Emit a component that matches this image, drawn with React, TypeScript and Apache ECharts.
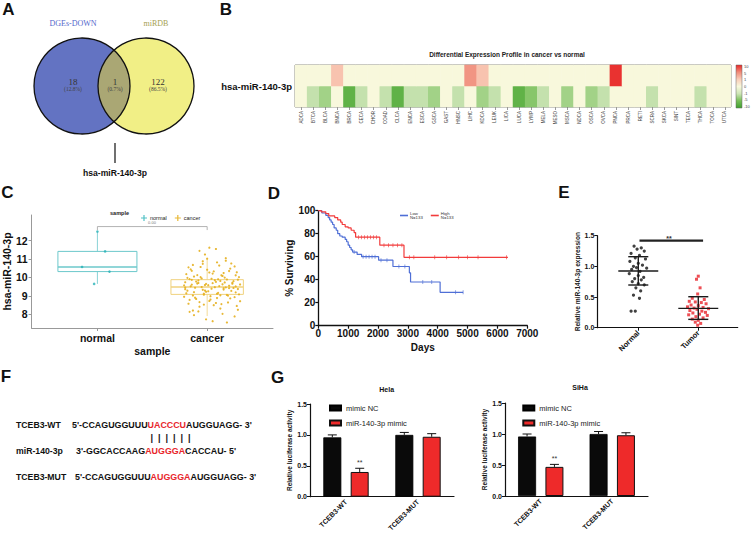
import React, { useEffect, useRef } from 'react';
import * as echarts from 'echarts';

// ---------- Panel A: Venn ----------
const vennSets = ['DGEs-DOWN', 'miRDB'];
const vennCounts = [18, 1, 122];
const vennPercents = ['(12.8%)', '(0.7%)', '(86.5%)'];
const vennHit = 'hsa-miR-140-3p';

// ---------- Panel B: heatmap ----------
const heatTitle = 'Differential Expression Profile in cancer vs normal';
const heatRowLabel = 'hsa-miR-140-3p';
const tumorTypes = ['ADCA', 'BTCA', 'BLCA', 'BNCA', 'BRCA', 'CECA', 'CHOR', 'COAD', 'CLCA', 'ENCA', 'ESCA', 'GSCA', 'GAST', 'HNSC', 'LIHC', 'KDCA', 'LEUK', 'LICA', 'LUCA', 'LYMP', 'MELA', 'MESO', 'MSCA', 'NDCA', 'OSCA', 'OVCA', 'PNCA', 'PRCA', 'RETI', 'SCRA', 'SKCA', 'SINT', 'TECA', 'THCA', 'TOCA', 'UTCA'];
const heatTopRow = [0, 0, 0, 1.6, 0, 0, 0, 0, 0, 0, 0, 0, 0, 0, 4.4, 1.6, 0, 0, 0, 0, 0, 0, 0, 0, 0, 0, 9.5, 0, 0, 0, 0, 0, 0, 0, 0, 0];
const heatBottomRow = [0, -1.4, -3, 0, -7, -1.4, 0, -1.4, -7, -1.4, -1.4, -3, 0, -1.4, 0, -3, -1.4, 0, -7, -4.2, -1.4, 0, -3, 0, -3, -1.4, 0, 0, 0, -1.4, 0, 0, 0, -1.4, 0, 0];
const colorbarTicks = [10, 5, 1, 0, -1, -5, -10];
const heatColors = ['#3f9f2f', '#76be57', '#cde5b6', '#f8f8dc', '#f9cdb9', '#f08b79', '#e82828'];

// ---------- Panel C: box plot ----------
const boxCategories = ['normal', 'cancer'];
// [x, low, q1, median, q3, high, halfWidth]
const normalBox = [1, 9.65, 10.32, 10.57, 11.42, 12.5, 0.36];
const cancerBox = [2, 7.9, 9.08, 9.48, 9.88, 11.05, 0.33];
const normalPoints = [[1.0, 12.5], [1.07, 11.42], [0.86, 10.57], [1.11, 10.32], [0.97, 9.65]];
const cancerPoints = [
  [1.85, 9.52], [2.12, 9.81], [1.97, 9.12], [2.24, 9.43], [1.79, 8.95], [2.05, 10.21], [2.18, 9.05], [1.91, 9.67], [2.28, 9.88], [2.02, 8.72],
  [1.88, 10.05], [2.15, 9.34], [1.82, 9.28], [2.21, 10.48], [1.95, 9.95], [2.09, 8.88], [2.26, 9.19], [1.86, 10.36], [2.01, 9.58], [2.13, 10.12],
  [1.8, 9.74], [2.19, 8.64], [1.93, 8.41], [2.07, 9.47], [2.3, 9.62], [1.84, 9.91], [2.11, 10.65], [1.99, 9.22], [2.23, 9.71], [1.9, 8.83],
  [2.16, 9.99], [1.81, 10.18], [2.04, 9.39], [2.27, 10.28], [1.96, 10.74], [2.1, 9.16], [1.87, 9.02], [2.2, 9.55], [2.0, 10.42], [1.83, 8.57],
  [2.25, 8.93], [1.92, 9.84], [2.14, 9.63], [2.06, 8.49], [1.89, 9.44], [2.29, 10.02], [1.98, 9.29], [2.17, 10.91], [1.8, 9.36], [2.08, 9.76],
  [2.22, 9.27], [1.94, 10.57], [2.03, 8.98], [2.12, 8.31], [1.86, 9.61], [2.26, 9.51], [1.97, 9.06], [2.18, 9.89], [1.84, 8.78], [2.05, 9.69],
  [2.3, 8.71], [1.91, 10.13], [2.15, 9.41], [2.0, 11.02], [1.82, 9.98], [2.2, 10.35], [1.95, 9.48], [2.09, 9.11], [2.24, 9.8], [1.88, 9.2],
  [2.13, 8.55], [1.79, 9.57], [2.02, 10.27], [2.28, 9.37], [1.93, 8.66], [2.16, 9.73], [1.85, 10.44], [2.07, 9.85], [2.21, 8.86], [1.99, 9.65],
  [1.87, 8.2], [2.11, 9.53], [2.25, 10.6], [1.96, 9.33], [2.04, 9.93], [2.19, 9.01], [1.81, 9.14], [2.14, 10.08], [1.9, 9.78], [2.27, 8.45],
  [2.01, 9.25], [1.83, 10.55], [2.17, 9.46], [1.94, 10.02], [2.08, 8.61], [2.23, 9.66], [1.89, 8.9], [2.06, 10.33], [2.29, 9.08], [1.98, 9.59],
  [2.12, 9.03], [1.86, 9.87], [2.2, 9.42], [2.03, 8.8], [1.92, 9.7], [2.15, 10.24], [1.8, 9.45], [2.26, 10.12], [1.97, 8.52], [2.1, 9.9],
  [2.02, 11.62], [1.93, 11.45], [2.08, 11.55], [2.17, 11.05], [1.98, 11.25], [2.05, 7.62], [2.18, 7.55], [1.99, 7.72], [1.88, 7.95], [2.25, 7.88],
  [2.14, 8.02], [1.84, 8.13], [2.28, 8.24], [1.92, 8.15], [2.09, 10.82], [1.96, 10.88], [2.22, 10.76], [1.87, 10.68],
];
const boxBracket = [[1, 12.58], [1, 12.77], [2, 12.77], [2, 12.58]];
const boxPValue = '0.00';

// ---------- Panel D: Kaplan-Meier ----------
const kmGroups = ['Low', 'High'];
const kmN = [133, 133];
const kmLow = [[0, 100], [120, 98], [250, 96], [330, 94], [380, 92], [430, 90], [480, 88], [530, 85], [600, 83], [650, 80], [720, 78], [800, 77], [900, 75], [950, 73], [1000, 70], [1050, 68], [1100, 66], [1150, 64], [1300, 62], [1450, 60], [2020, 57], [2500, 51.5], [3050, 46], [3090, 38], [4080, 29], [4850, 29]];
const kmHigh = [[0, 100], [100, 99], [250, 97.5], [350, 95.5], [550, 94], [650, 92], [750, 90], [800, 88], [900, 86], [1000, 85], [1100, 83], [1200, 81], [1250, 77], [2060, 70], [2870, 59.5], [6350, 59.5]];
const kmLowCensor = [[1200, 64], [1500, 60], [1600, 60], [1700, 60], [1800, 60], [1900, 60], [2100, 57], [2300, 57], [2700, 51.5], [2900, 51.5], [3500, 38], [3800, 38], [4600, 29], [4850, 29]];
const kmHighCensor = [[1350, 77], [1450, 77], [1550, 77], [1650, 77], [1750, 77], [1850, 77], [1950, 77], [2200, 70], [2350, 70], [2500, 70], [2650, 70], [2800, 70], [3050, 59.5], [3200, 59.5], [3900, 59.5], [4300, 59.5], [4700, 59.5], [5000, 59.5], [5350, 59.5], [6300, 59.5]];

// ---------- Panel E: scatter ----------
const eCategories = ['Normal', 'Tumor'];
const normalE = [[0.93, 1.33], [1.05, 1.3], [0.98, 1.28], [1.1, 1.25], [0.88, 1.21], [1.02, 1.18], [0.95, 1.14], [1.12, 1.12], [0.86, 1.08], [1.0, 1.05], [1.07, 1.02], [0.92, 1.0], [0.97, 0.98], [1.14, 0.97], [0.89, 0.95], [1.03, 0.92], [0.85, 0.88], [1.0, 0.85], [1.09, 0.82], [0.94, 0.8], [1.05, 0.78], [0.9, 0.75], [1.0, 0.72], [1.1, 0.7], [0.96, 0.65], [1.04, 0.6], [0.92, 0.53], [1.02, 0.48], [0.88, 0.27], [0.95, 0.27]];
const tumorE = [[2.0, 0.84], [1.97, 0.79], [2.03, 0.65], [1.99, 0.55], [1.9, 0.48], [2.1, 0.46], [1.85, 0.43], [1.95, 0.42], [2.05, 0.41], [2.13, 0.39], [1.88, 0.37], [2.0, 0.36], [1.82, 0.34], [2.08, 0.33], [1.93, 0.32], [2.17, 0.31], [1.98, 0.3], [1.86, 0.28], [2.06, 0.27], [2.12, 0.25], [1.91, 0.24], [2.02, 0.22], [1.84, 0.21], [2.15, 0.2], [1.96, 0.18], [2.08, 0.16], [1.9, 0.14], [2.0, 0.12], [1.95, 0.09], [2.04, 0.07], [1.99, 0.04]];
// [x, mean, lower SD, upper SD]
const eSummary = [[1, 0.924, 0.696, 1.158], [2, 0.315, 0.136, 0.505]];
const eSigLine = [[1.02, 1.42], [2.08, 1.42]];

// ---------- Panel F: sequences ----------
const seqRows = [
  { label: 'TCEB3-WT', pre: "5'-CCAGUGGUUU", site: 'UACCCU', post: "AUGGUAGG- 3'" },
  { label: 'miR-140-3p', pre: "3'-GGCACCAAG", site: 'AUGGGA', post: "CACCAU- 5'" },
  { label: 'TCEB3-MUT', pre: "5'-CCAGUGGUUU", site: 'AUGGGA', post: "AUGGUAGG- 3'" },
];
const pairingMarks = '|  |  |  |  |  |';

// ---------- Panel G: luciferase ----------
const lucGroups = ['TCEB3-WT', 'TCEB3-MUT'];
const lucSeries = ['mimic NC', 'miR-140-3p mimic'];
const helaNC = [0.96, 1.0];
const helaNCsd = [0.04, 0.04];
const helaMimic = [0.4, 0.97];
const helaMimicSd = [0.06, 0.05];
const sihaNC = [0.96, 1.0];
const sihaNCsd = [0.04, 0.04];
const sihaMimic = [0.47, 0.98];
const sihaMimicSd = [0.04, 0.04];
const mimicSig = [1, 0];

const SANS = '"Liberation Sans", Arial, sans-serif';
const SERIF = '"Liberation Serif", "DejaVu Serif", serif';

// Venn geometry (layout)
const VG = { cx1: 82, cx2: 146, cy: 86, r: 48 };
const lensPath = (() => {
  const dx = (VG.cx2 - VG.cx1) / 2;
  const xm = VG.cx1 + dx;
  const h = Math.sqrt(VG.r * VG.r - dx * dx);
  return `M${xm},${VG.cy - h} A${VG.r},${VG.r} 0 0,0 ${xm},${VG.cy + h} A${VG.r},${VG.r} 0 0,0 ${xm},${VG.cy - h} Z`;
})();
echarts.graphic.registerShape('vennLens', echarts.graphic.extendPath(lensPath, {}));

const scaleAsc = [...colorbarTicks].sort((a, b) => a - b);
const toBarPos = (v: number) => {
  for (let i = 0; i < scaleAsc.length - 1; i++) {
    if (v <= scaleAsc[i + 1]) return i + (v - scaleAsc[i]) / (scaleAsc[i + 1] - scaleAsc[i]) - 3;
  }
  return 3;
};
const heatData = [
  ...heatBottomRow.map((v, i) => [i, 0, v, toBarPos(v)]),
  ...heatTopRow.map((v, i) => [i, 1, v, toBarPos(v)]),
];

const txt = (text: string, x: number, y: number, o: any = {}) => ({
  type: 'text', x, y, silent: true,
  style: { text, fontFamily: SANS, fontSize: 9, fill: '#111', align: 'center', verticalAlign: 'middle', ...o },
});

const renderBox = (params: any, api: any) => {
  const x = api.value(0), lo = api.value(1), q1 = api.value(2), med = api.value(3), q3 = api.value(4), hi = api.value(5), hw = api.value(6);
  const tl = api.coord([x - hw, q3]);
  const br = api.coord([x + hw, q1]);
  const ml = api.coord([x - hw, med]);
  const mr = api.coord([x + hw, med]);
  const top = api.coord([x, hi]);
  const q3p = api.coord([x, q3]);
  const q1p = api.coord([x, q1]);
  const bot = api.coord([x, lo]);
  const color = api.visual('color');
  return {
    type: 'group', children: [
      { type: 'line', shape: { x1: top[0], y1: top[1], x2: q3p[0], y2: q3p[1] }, style: { stroke: color, lineWidth: 0.8 } },
      { type: 'line', shape: { x1: q1p[0], y1: q1p[1], x2: bot[0], y2: bot[1] }, style: { stroke: color, lineWidth: 0.8 } },
      { type: 'rect', shape: { x: tl[0], y: tl[1], width: br[0] - tl[0], height: br[1] - tl[1] }, style: { fill: 'rgba(255,255,255,0)', stroke: color, lineWidth: 1 } },
      { type: 'line', shape: { x1: ml[0], y1: ml[1], x2: mr[0], y2: mr[1] }, style: { stroke: color, lineWidth: 1.4 } },
    ],
  };
};

const renderMeanSd = (params: any, api: any) => {
  const x = api.value(0), m = api.value(1), lo = api.value(2), hi = api.value(3);
  const a = api.coord([x - 0.333, m]), b = api.coord([x + 0.333, m]);
  const l1 = api.coord([x - 0.167, lo]), l2 = api.coord([x + 0.167, lo]);
  const h1 = api.coord([x - 0.167, hi]), h2 = api.coord([x + 0.167, hi]);
  const st = { stroke: '#1a1a1a', lineWidth: 1.4 };
  return {
    type: 'group', children: [
      { type: 'line', shape: { x1: a[0], y1: a[1], x2: b[0], y2: b[1] }, style: st },
      { type: 'line', shape: { x1: (l1[0] + l2[0]) / 2, y1: l1[1], x2: (h1[0] + h2[0]) / 2, y2: h1[1] }, style: st },
      { type: 'line', shape: { x1: l1[0], y1: l1[1], x2: l2[0], y2: l2[1] }, style: st },
      { type: 'line', shape: { x1: h1[0], y1: h1[1], x2: h2[0], y2: h2[1] }, style: st },
    ],
  };
};

const makeErr = (offset: number) => (params: any, api: any) => {
  const i = api.value(0), m = api.value(1), sd = api.value(2), sig = api.value(3);
  const base = api.coord([i, m]);
  const top = api.coord([i, m + sd]);
  const x = base[0] + offset;
  const children: any[] = [
    { type: 'line', shape: { x1: x, y1: base[1], x2: x, y2: top[1] }, style: { stroke: '#111', lineWidth: 1 } },
    { type: 'line', shape: { x1: x - 4.5, y1: top[1], x2: x + 4.5, y2: top[1] }, style: { stroke: '#111', lineWidth: 1 } },
  ];
  if (sig) {
    children.push({ type: 'text', x, y: top[1] - 2, style: { text: '**', align: 'center', verticalAlign: 'bottom', fontSize: 7, fontFamily: SANS, fill: '#333' } });
  }
  return { type: 'group', children };
};

function lucAxes(gridIndex: number, nameGap: number) {
  const x = {
    type: 'category', gridIndex, data: lucGroups, boundaryGap: true,
    axisLine: { lineStyle: { color: '#111', width: 1.2 } },
    axisTick: { alignWithLabel: true, length: 3, lineStyle: { color: '#111' } },
    axisLabel: { rotate: 45, fontSize: 7, fontWeight: 'bold', color: '#111', margin: 4, fontFamily: SANS },
  };
  const y = {
    type: 'value', gridIndex, min: 0, max: 1.5, interval: 0.5,
    splitLine: { show: false },
    axisLine: { show: true, lineStyle: { color: '#111', width: 1.2 } },
    axisTick: { show: true, length: 3, lineStyle: { color: '#111' } },
    axisLabel: { fontSize: 7, fontWeight: 'bold', color: '#111', margin: 3, formatter: (v: number) => v.toFixed(1), fontFamily: SANS },
    name: 'Relative luciferase activity', nameLocation: 'middle', nameGap,
    nameTextStyle: { fontSize: 6.5, fontWeight: 'bold', color: '#111', fontFamily: SANS },
  };
  return { x, y };
}

function lucSeriesFor(axis: number, nc: number[], ncSd: number[], mim: number[], mimSd: number[]) {
  return [
    { type: 'bar', name: lucSeries[0], xAxisIndex: axis, yAxisIndex: axis, data: nc, barWidth: 18, barGap: '52%', itemStyle: { color: '#0a0a0a', borderColor: '#000', borderWidth: 0.8 }, silent: true },
    { type: 'bar', name: lucSeries[1], xAxisIndex: axis, yAxisIndex: axis, data: mim, barWidth: 18, barGap: '52%', itemStyle: { color: '#ee2a2a', borderColor: '#111', borderWidth: 1 }, silent: true },
    { type: 'custom', xAxisIndex: axis, yAxisIndex: axis, renderItem: makeErr(-13.7), data: nc.map((m, i) => [i, m, ncSd[i], 0]), z: 5, silent: true },
    { type: 'custom', xAxisIndex: axis, yAxisIndex: axis, renderItem: makeErr(13.7), data: mim.map((m, i) => [i, m, mimSd[i], mimicSig[i]]), z: 5, silent: true },
  ];
}

function buildOption() {
  const hela = lucAxes(4, 13);
  const siha = lucAxes(5, 14);

  const seqY = [424.5, 451, 477];
  const seqX = [72, 76, 75];
  const seqGraphics = seqRows.flatMap((r, i) => [
    txt(r.label, 16, seqY[i], { align: 'left', fontSize: 8.7, fontWeight: 'bold' }),
    {
      type: 'text', x: seqX[i], y: seqY[i], silent: true,
      style: {
        text: `{a|${r.pre}}{r|${r.site}}{a|${r.post}}`,
        align: 'left', verticalAlign: 'middle',
        rich: {
          a: { fill: '#111', fontSize: 8.9, fontWeight: 'bold', fontFamily: SANS },
          r: { fill: '#e8262b', fontSize: 8.9, fontWeight: 'bold', fontFamily: SANS },
        },
      },
    },
  ]);

  const cbStops = [...heatColors].reverse().map((c, i) => ({ offset: i / (heatColors.length - 1), color: c }));

  const graphic: any[] = [
    // panel letters
    txt('A', 8.5, 9.5, { fontSize: 17, fontWeight: 'bold' }),
    txt('B', 226, 9.5, { fontSize: 17, fontWeight: 'bold' }),
    txt('C', 7.5, 192, { fontSize: 17, fontWeight: 'bold' }),
    txt('D', 274, 193, { fontSize: 17, fontWeight: 'bold' }),
    txt('E', 564, 192, { fontSize: 17, fontWeight: 'bold' }),
    txt('F', 6, 376, { fontSize: 17, fontWeight: 'bold' }),
    txt('G', 277.5, 377, { fontSize: 17, fontWeight: 'bold' }),
    // Venn
    { type: 'circle', silent: true, shape: { cx: VG.cx1, cy: VG.cy, r: VG.r }, style: { fill: '#6373c2' } },
    { type: 'circle', silent: true, shape: { cx: VG.cx2, cy: VG.cy, r: VG.r }, style: { fill: '#f1ef86' } },
    { type: 'vennLens', silent: true, x: 0, y: 0, style: { fill: '#aaa774' } },
    { type: 'circle', silent: true, shape: { cx: VG.cx1, cy: VG.cy, r: VG.r }, style: { fill: 'none', stroke: '#111', lineWidth: 1.3 } },
    { type: 'circle', silent: true, shape: { cx: VG.cx2, cy: VG.cy, r: VG.r }, style: { fill: 'none', stroke: '#111', lineWidth: 1.3 } },
    txt(vennSets[0], 73, 23, { fontFamily: SERIF, fontSize: 8, fill: '#5468cc' }),
    txt(vennSets[1], 156, 23, { fontFamily: SERIF, fontSize: 8, fill: '#a5a050' }),
    txt(String(vennCounts[0]), 73, 82, { fontFamily: SERIF, fontSize: 9, fill: '#333' }),
    txt(String(vennCounts[1]), 115, 82, { fontFamily: SERIF, fontSize: 9, fill: '#333' }),
    txt(String(vennCounts[2]), 158, 82, { fontFamily: SERIF, fontSize: 9, fill: '#333' }),
    txt(vennPercents[0], 73, 89, { fontFamily: SERIF, fontSize: 5.5, fill: '#444' }),
    txt(vennPercents[1], 115, 89, { fontFamily: SERIF, fontSize: 5.5, fill: '#444' }),
    txt(vennPercents[2], 158, 89, { fontFamily: SERIF, fontSize: 5.5, fill: '#444' }),
    { type: 'line', silent: true, shape: { x1: 115, y1: 143, x2: 115, y2: 163 }, style: { stroke: '#111', lineWidth: 1.2 } },
    txt(vennHit, 115, 172.5, { fontSize: 8.6, fontWeight: 'bold' }),
    // heatmap title & colorbar
    txt(heatTitle, 507, 54, { fontSize: 6.5, fontWeight: 'bold', fill: '#222' }),
    { type: 'rect', silent: true, shape: { x: 736, y: 65, width: 6, height: 43 }, style: { fill: new echarts.graphic.LinearGradient(0, 0, 0, 1, cbStops), stroke: '#666', lineWidth: 0.5 } },
    ...colorbarTicks.map((t, i) => txt(String(t), 744, 66.5 + i * 6.67, { fontSize: 4, align: 'left', fill: '#444' })),
    // panel C extras
    txt('sample', 119.5, 213.3, { fontSize: 5.5, fontWeight: 'bold', fill: '#222' }),
    txt(boxPValue, 152, 222, { fontSize: 4, fill: '#777' }),
    // panel E extras
    txt('**', 669, 238, { fontSize: 7, fontWeight: 'bold', fill: '#333' }),
    // panel G titles
    txt('Hela', 386.7, 389.5, { fontSize: 7, fontWeight: 'bold' }),
    txt('SiHa', 580, 387, { fontSize: 7, fontWeight: 'bold' }),
    // panel F
    ...seqGraphics,
    txt(pairingMarks, 170.5, 438, { fontSize: 9, fontWeight: 'bold' }),
  ];

  const option: any = {
    animation: false,
    textStyle: { fontFamily: SANS },
    visualMap: [{
      type: 'continuous', show: false, seriesIndex: 0, dimension: 3, min: -3, max: 3,
      inRange: { color: heatColors },
    }],
    legend: [
      {
        data: boxCategories, left: 136, top: 210, itemWidth: 6, itemHeight: 6, itemGap: 8,
        icon: 'path://M4,0H6V4H10V6H6V10H4V6H0V4H4Z', selectedMode: false,
        textStyle: { fontSize: 5.5, color: '#222', padding: [0, 0, 0, -2] },
      },
      {
        data: kmGroups, left: 395, top: 205.5, itemWidth: 8, itemHeight: 1.6, itemGap: 8, icon: 'rect', selectedMode: false,
        formatter: (n: string) => `${n}\nN=${kmN[kmGroups.indexOf(n)]}`,
        textStyle: { fontSize: 4.3, lineHeight: 5, color: '#333', padding: [0, 0, 0, -3] },
      },
      {
        data: lucSeries, left: 324, top: 399, orient: 'vertical', itemWidth: 11, itemHeight: 5, itemGap: 7, icon: 'rect', selectedMode: false,
        textStyle: { fontSize: 7.5, color: '#222' },
      },
      {
        data: lucSeries, left: 517.3, top: 399, orient: 'vertical', itemWidth: 11, itemHeight: 5, itemGap: 7, icon: 'rect', selectedMode: false,
        textStyle: { fontSize: 7.5, color: '#222' },
      },
    ],
    grid: [
      { left: 295, top: 65, width: 436, height: 42, show: true, borderColor: '#777', borderWidth: 1, backgroundColor: 'transparent' },
      { left: 27, top: 215, width: 246, height: 113 },
      { left: 318.3, top: 210.7, width: 209, height: 115 },
      { left: 597.3, top: 235.7, width: 140.4, height: 92 },
      { left: 310, top: 404, width: 144, height: 92.7 },
      { left: 505, top: 403, width: 143, height: 93 },
    ],
    xAxis: [
      {
        type: 'category', gridIndex: 0, data: tumorTypes,
        axisLine: { show: false },
        axisTick: { show: true, length: 3, alignWithLabel: true, lineStyle: { color: '#555', width: 0.6 } },
        axisLabel: { rotate: 90, fontSize: 4.5, color: '#444', margin: 4, interval: 0 },
        splitLine: { show: false },
      },
      {
        type: 'value', gridIndex: 1, min: 0.4, max: 2.6, splitLine: { show: false },
        axisLine: { lineStyle: { color: '#999', width: 1 } },
        axisTick: { show: true, customValues: [1, 2], length: 3, lineStyle: { color: '#999' } },
        axisLabel: { customValues: [1, 2], formatter: (v: number) => boxCategories[Math.round(v) - 1] || '', fontSize: 10.5, fontWeight: 'bold', color: '#111', margin: 4 },
        name: 'sample', nameLocation: 'middle', nameGap: 17, nameTextStyle: { fontSize: 10.5, fontWeight: 'bold', color: '#111' },
      },
      {
        type: 'value', gridIndex: 2, min: 0, max: 7000, interval: 1000, splitLine: { show: false },
        axisLine: { lineStyle: { color: '#111', width: 1.3 } },
        axisTick: { show: true, length: 3, lineStyle: { color: '#111', width: 1.2 } },
        axisLabel: { fontSize: 10, fontWeight: 'bold', color: '#111', margin: 3, formatter: (v: number) => String(v) },
        name: 'Days', nameLocation: 'middle', nameGap: 17, nameTextStyle: { fontSize: 10, fontWeight: 'bold', color: '#111' },
      },
      {
        type: 'value', gridIndex: 3, min: 0.317, max: 2.657, splitLine: { show: false },
        axisLine: { lineStyle: { color: '#111', width: 1.2 } },
        axisTick: { show: true, customValues: [1, 2], length: 3, lineStyle: { color: '#111' } },
        axisLabel: { customValues: [1, 2], formatter: (v: number) => eCategories[Math.round(v) - 1] || '', rotate: 45, fontSize: 7.5, fontWeight: 'bold', color: '#111', margin: 4 },
      },
      hela.x,
      siha.x,
    ],
    yAxis: [
      {
        type: 'category', gridIndex: 0, data: ['row0', 'row1'],
        axisLine: { show: false }, axisTick: { show: false }, axisLabel: { show: false }, splitLine: { show: false },
        name: heatRowLabel, nameLocation: 'middle', nameRotate: 0, nameGap: 3,
        nameTextStyle: { fontSize: 9.5, fontWeight: 'bold', color: '#111', align: 'right', verticalAlign: 'middle' },
      },
      {
        type: 'value', gridIndex: 1, min: 7.25, max: 13.4, splitLine: { show: false },
        axisLine: { show: true, lineStyle: { color: '#999', width: 1 } },
        axisTick: { show: true, customValues: [8, 9, 10, 11, 12], length: 3, lineStyle: { color: '#999' } },
        axisLabel: { customValues: [8, 9, 10, 11, 12], fontSize: 10.5, fontWeight: 'bold', color: '#111', margin: 4 },
        name: 'hsa-miR-140-3p', nameLocation: 'middle', nameGap: 15, nameTextStyle: { fontSize: 10.5, fontWeight: 'bold', color: '#111' },
      },
      {
        type: 'value', gridIndex: 2, min: 0, max: 100, interval: 20, splitLine: { show: false },
        axisLine: { show: true, lineStyle: { color: '#111', width: 1.3 } },
        axisTick: { show: true, length: 3, lineStyle: { color: '#111', width: 1.2 } },
        axisLabel: { fontSize: 10, fontWeight: 'bold', color: '#111', margin: 3 },
        name: '% Surviving', nameLocation: 'middle', nameGap: 24, nameTextStyle: { fontSize: 10, fontWeight: 'bold', color: '#111' },
      },
      {
        type: 'value', gridIndex: 3, min: 0, max: 1.5, interval: 0.5, splitLine: { show: false },
        axisLine: { show: true, lineStyle: { color: '#111', width: 1.2 } },
        axisTick: { show: true, length: 3, lineStyle: { color: '#111' } },
        axisLabel: { fontSize: 7, fontWeight: 'bold', color: '#111', margin: 3, formatter: (v: number) => v.toFixed(1) },
        name: 'Relative miR-140-3p expression', nameLocation: 'middle', nameGap: 16,
        nameTextStyle: { fontSize: 6.6, fontWeight: 'bold', color: '#222' },
      },
      hela.y,
      siha.y,
    ],
    series: [
      {
        type: 'heatmap', xAxisIndex: 0, yAxisIndex: 0, data: heatData, silent: true,
        itemStyle: { borderWidth: 0 }, emphasis: { disabled: true },
      },
      // C
      { type: 'custom', xAxisIndex: 1, yAxisIndex: 1, renderItem: renderBox, data: [normalBox], itemStyle: { color: '#6cc8cb' }, z: 2, silent: true },
      { type: 'custom', xAxisIndex: 1, yAxisIndex: 1, renderItem: renderBox, data: [cancerBox], itemStyle: { color: '#f0d27e' }, z: 2, silent: true },
      { type: 'scatter', name: boxCategories[0], xAxisIndex: 1, yAxisIndex: 1, data: normalPoints, symbolSize: 2.6, itemStyle: { color: '#26b2b6' }, z: 3, silent: true },
      { type: 'scatter', name: boxCategories[1], xAxisIndex: 1, yAxisIndex: 1, data: cancerPoints, symbolSize: 2.2, itemStyle: { color: '#e6b020', opacity: 0.9 }, z: 3, silent: true },
      { type: 'line', xAxisIndex: 1, yAxisIndex: 1, data: boxBracket, symbol: 'none', lineStyle: { color: '#aaa', width: 0.9 }, silent: true },
      // D
      { type: 'line', name: kmGroups[0], xAxisIndex: 2, yAxisIndex: 2, data: kmLow, step: 'end', symbol: 'none', lineStyle: { color: '#4f6fd6', width: 1.2 }, itemStyle: { color: '#4f6fd6' }, silent: true },
      { type: 'line', name: kmGroups[1], xAxisIndex: 2, yAxisIndex: 2, data: kmHigh, step: 'end', symbol: 'none', lineStyle: { color: '#f23b3b', width: 1.2 }, itemStyle: { color: '#f23b3b' }, silent: true },
      { type: 'scatter', xAxisIndex: 2, yAxisIndex: 2, data: kmLowCensor, symbol: 'rect', symbolSize: [0.8, 4], itemStyle: { color: '#4f6fd6' }, silent: true },
      { type: 'scatter', xAxisIndex: 2, yAxisIndex: 2, data: kmHighCensor, symbol: 'rect', symbolSize: [0.8, 4], itemStyle: { color: '#f23b3b' }, silent: true },
      // E
      { type: 'scatter', name: eCategories[0], xAxisIndex: 3, yAxisIndex: 3, data: normalE, symbolSize: 3.2, itemStyle: { color: '#111' }, silent: true },
      { type: 'scatter', name: eCategories[1], xAxisIndex: 3, yAxisIndex: 3, data: tumorE, symbol: 'rect', symbolSize: 3, itemStyle: { color: '#e8232a' }, silent: true },
      { type: 'custom', xAxisIndex: 3, yAxisIndex: 3, renderItem: renderMeanSd, data: eSummary, z: 4, silent: true },
      { type: 'line', xAxisIndex: 3, yAxisIndex: 3, data: eSigLine, symbol: 'none', lineStyle: { color: '#222', width: 2.2 }, silent: true },
      // G
      ...lucSeriesFor(4, helaNC, helaNCsd, helaMimic, helaMimicSd),
      ...lucSeriesFor(5, sihaNC, sihaNCsd, sihaMimic, sihaMimicSd),
    ],
    graphic,
  };
  return option;
}

export default function App() {
  const ref = useRef<HTMLDivElement>(null);
  useEffect(() => {
    if (!ref.current) return;
    const chart = echarts.init(ref.current, null, { renderer: 'svg' });
    chart.setOption(buildOption());
    return () => chart.dispose();
  }, []);
  return (
    <div
      ref={ref}
      style={{ position: 'fixed', left: 0, top: 0, width: 753, height: 539, background: '#fff' }}
    />
  );
}
